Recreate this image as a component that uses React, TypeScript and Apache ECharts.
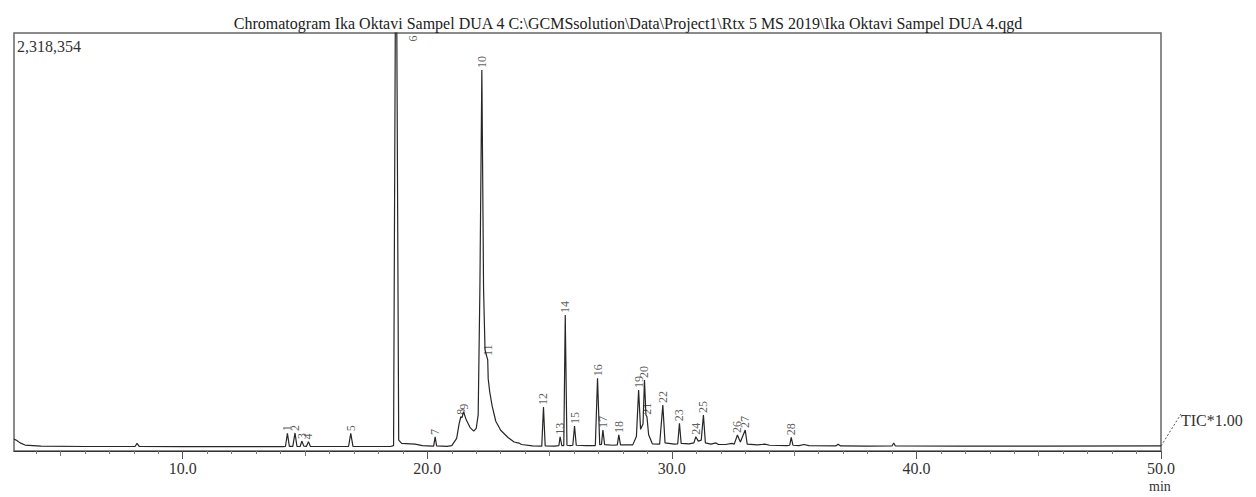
import { useEffect, useRef } from "react";
import * as echarts from "echarts";

const titleText =
  "Chromatogram Ika Oktavi Sampel DUA 4 C:\\GCMSsolution\\Data\\Project1\\Rtx 5 MS 2019\\Ika Oktavi Sampel DUA 4.qgd";
const yMaxText = "2,318,354";
const ticText = "TIC*1.00";
const unitText = "min";

const yMax = 2318354;
const xMin = 3.1;
const xMax = 50;

const majorTicks = [10, 20, 30, 40, 50];
const midTicks = [5, 15, 25, 35, 45];
const minorTicks = [
  4, 6, 7, 8, 9, 11, 12, 13, 14, 16, 17, 18, 19, 21, 22, 23, 24, 26, 27, 28, 29,
  31, 32, 33, 34, 36, 37, 38, 39, 41, 42, 43, 44, 46, 47, 48, 49,
];

// TIC trace: [retention time (min), intensity]
const trace: [number, number][] = [
  [3.1, 66000], [3.2, 60000], [3.35, 45000], [3.55, 33000], [4.2, 27000], [6.0, 25000],
  [8.05, 25000], [8.13, 42000], [8.22, 26000], [10.0, 24000], [12.0, 24000], [14.1, 24000],
  [14.2, 25000], [14.28, 98000], [14.36, 26000],
  [14.5, 26000], [14.59, 100000], [14.67, 26000],
  [14.8, 25000], [14.87, 55000], [14.95, 27000],
  [15.06, 26000], [15.14, 52000], [15.22, 25000],
  [15.3, 25000], [16.78, 25000], [16.87, 98000], [16.96, 26000],
  [18.5, 25000], [18.62, 30000], [18.72, 3300000], [18.83, 60000], [18.95, 42000],
  [19.5, 38000], [19.8, 30000], [20.2, 27000],
  [20.26, 27000], [20.32, 78000], [20.38, 28000],
  [20.8, 26000], [21.0, 30000], [21.2, 70000], [21.3, 150000], [21.37, 190000],
  [21.42, 185000], [21.48, 218000], [21.6, 170000], [21.75, 130000], [21.9, 110000],
  [22.0, 125000], [22.08, 200000], [22.15, 900000], [22.23, 2113000], [22.3, 900000],
  [22.36, 560000], [22.43, 525000], [22.47, 505000], [22.49, 400000], [22.55, 330000],
  [22.65, 250000], [22.8, 165000], [23.0, 115000], [23.3, 75000], [23.55, 50000],
  [23.75, 44000], [23.85, 36000], [24.3, 28000],
  [24.68, 27000], [24.75, 244000], [24.82, 28000], [25.2, 27000],
  [25.38, 30000], [25.43, 79000], [25.5, 30000],
  [25.58, 30000], [25.64, 754000], [25.71, 32000], [25.85, 30000],
  [25.95, 32000], [26.02, 139000], [26.09, 32000], [26.5, 30000],
  [26.87, 30000], [26.96, 403000], [27.05, 35000],
  [27.12, 36000], [27.18, 116000], [27.25, 35000], [27.6, 32000],
  [27.77, 34000], [27.83, 89000], [27.9, 34000], [28.4, 34000],
  [28.55, 80000], [28.64, 338000], [28.72, 120000], [28.82, 150000], [28.88, 394000],
  [28.94, 200000], [28.98, 190000], [29.05, 90000], [29.2, 40000], [29.5, 38000],
  [29.63, 255000], [29.72, 45000], [30.1, 38000],
  [30.24, 40000], [30.31, 154000], [30.38, 42000], [30.7, 40000],
  [30.9, 45000], [30.98, 79000], [31.08, 55000], [31.2, 60000], [31.29, 200000],
  [31.37, 45000], [31.6, 38000], [31.8, 45000], [31.9, 36000], [32.2, 36000],
  [32.45, 42000], [32.55, 38000], [32.68, 89000], [32.8, 50000], [33.0, 116000],
  [33.08, 38000], [33.5, 34000], [33.8, 38000], [34.0, 32000], [34.7, 30000],
  [34.82, 32000], [34.88, 76000], [34.95, 32000], [35.2, 30000], [35.4, 36000],
  [35.6, 30000], [36.7, 28000], [36.8, 38000], [36.9, 28000], [38.0, 27000],
  [39.0, 28000], [39.07, 44000], [39.14, 28000], [42.0, 27000], [45.0, 27000], [50.0, 28000],
];

// Peak labels and where each label stands (time, intensity just above apex)
const peakLabels = [
  "1", "2", "3", "4", "5", "6", "7", "8", "9", "10", "11", "12", "13", "14",
  "15", "16", "17", "18", "19", "20", "21", "22", "23", "24", "25", "26", "27", "28",
];
const labelTimes = [
  14.28, 14.59, 14.87, 15.14, 16.87, 19.4, 20.32, 21.37, 21.48, 22.23, 22.47, 24.75, 25.43, 25.64,
  26.02, 26.96, 27.18, 27.83, 28.64, 28.88, 29.0, 29.63, 30.31, 30.98, 31.29, 32.68, 33.0, 34.88,
];
const labelHeights = [
  98000, 100000, 55000, 52000, 98000, 2260000, 78000, 190000, 218000, 2113000, 516000, 244000, 79000, 754000,
  139000, 403000, 116000, 89000, 338000, 394000, 190000, 255000, 154000, 79000, 200000, 89000, 116000, 76000,
];

const serif = "'Liberation Serif', 'DejaVu Serif', serif";
const ink = "#262626";

export default function App() {
  const ref = useRef<HTMLDivElement>(null);
  useEffect(() => {
    if (!ref.current) return;
    const chart = echarts.init(ref.current, null, { renderer: "svg" });
    const baseAxis = {
      type: "value" as const,
      min: xMin,
      max: xMax,
      position: "bottom" as const,
      splitLine: { show: false },
    };
    chart.setOption({
      animation: false,
      backgroundColor: "#ffffff",
      title: {
        text: titleText,
        left: "center",
        top: 10,
        textStyle: { fontFamily: serif, fontSize: 16, fontWeight: "normal", color: "#222" },
      },
      grid: {
        left: 14,
        right: 95,
        top: 33,
        bottom: 46,
        show: true,
        borderColor: "#666",
        borderWidth: 1.5,
        backgroundColor: "transparent",
      },
      xAxis: [
        {
          ...baseAxis,
          axisLine: { show: true, lineStyle: { color: "#333", width: 1.2 } },
          axisTick: { show: true, customValues: majorTicks, length: 8, lineStyle: { color: "#555" } },
          axisLabel: {
            show: true,
            customValues: majorTicks,
            formatter: (v: number) => v.toFixed(1),
            fontFamily: serif,
            fontSize: 16,
            color: "#333",
            margin: 9,
          },
        },
        {
          ...baseAxis,
          axisLine: { show: false },
          axisTick: { show: true, customValues: midTicks, length: 5, lineStyle: { color: "#777" } },
          axisLabel: { show: false },
        },
        {
          ...baseAxis,
          axisLine: { show: false },
          axisTick: { show: true, customValues: minorTicks, length: 3, lineStyle: { color: "#777" } },
          axisLabel: { show: false },
        },
      ],
      yAxis: {
        type: "value",
        min: 0,
        max: yMax,
        show: false,
        splitLine: { show: false },
      },
      series: [
        {
          type: "line",
          data: trace,
          xAxisIndex: 0,
          showSymbol: false,
          symbol: "none",
          clip: true,
          lineStyle: { color: ink, width: 1.2 },
        },
        {
          type: "scatter",
          xAxisIndex: 0,
          symbolSize: 0,
          clip: false,
          data: labelTimes.map((t, i) => ({ value: [t, labelHeights[i]], name: peakLabels[i] })),
          label: {
            show: true,
            formatter: (p: any) => p.name,
            position: "top",
            distance: 2,
            rotate: 90,
            align: "left",
            verticalAlign: "middle",
            fontFamily: serif,
            fontSize: 12,
            color: "#333",
          },
        },
      ],
      graphic: [
        {
          type: "text",
          left: 17,
          top: 38,
          style: { text: yMaxText, font: `16px ${serif}`, fill: "#333" },
        },
        {
          type: "line",
          shape: { x1: 1161, y1: 446, x2: 1181, y2: 414 },
          style: { stroke: "#555", lineWidth: 1, lineDash: [2, 2] },
        },
        {
          type: "text",
          left: 1181,
          top: 412,
          style: { text: ticText, font: `16px ${serif}`, fill: "#333" },
        },
        {
          type: "text",
          left: 1149,
          top: 479,
          style: { text: unitText, font: `14px ${serif}`, fill: "#333" },
        },
      ],
    });
    return () => chart.dispose();
  }, []);
  return (
    <div
      ref={ref}
      style={{ position: "fixed", left: 0, top: 0, width: 1256, height: 497, background: "#fff" }}
    />
  );
}
